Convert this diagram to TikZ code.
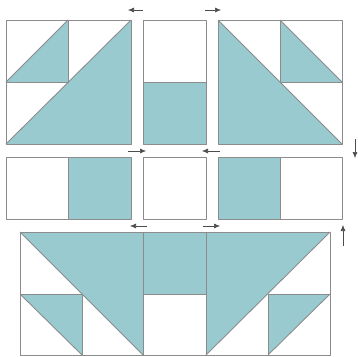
\documentclass[tikz,border=0pt]{standalone}
\usetikzlibrary{arrows.meta}
\definecolor{patch}{RGB}{152,202,207}
\definecolor{seam}{RGB}{140,140,140}
\tikzset{
  fab/.style={fill=patch, draw=seam, line width=0.9pt, line join=round},
  box/.style={draw=seam, line width=0.9pt, line join=round},
  press/.style={-{Latex[length=6pt,width=5pt]}, line width=0.6pt, draw=black!70}
}
\begin{document}
\begin{tikzpicture}[x=1pt,y=-1pt]
\useasboundingbox (0,0) rectangle (358,356);
% ---------- top row ----------
% left block
\fill[patch] (6,144) -- (131,20) -- (131,144) -- cycle;
\fill[patch] (6,82) -- (68,20) -- (68,82) -- cycle;
\draw[box] (6,144) -- (131,20);
\draw[box] (6,82) -- (68,20);
\draw[box] (6,82) -- (68,82) -- (68,20);
\draw[box] (6,20) rectangle (131,144);
% middle block
\fill[patch] (143,82) rectangle (206,144);
\draw[box] (143,82) -- (206,82);
\draw[box] (143,20) rectangle (206,144);
% right block
\fill[patch] (218,20) -- (342,144) -- (218,144) -- cycle;
\fill[patch] (280,20) -- (342,82) -- (280,82) -- cycle;
\draw[box] (218,20) -- (342,144);
\draw[box] (280,20) -- (342,82);
\draw[box] (280,20) -- (280,82) -- (342,82);
\draw[box] (218,20) rectangle (342,144);
% ---------- middle row ----------
\fill[patch] (68,157) rectangle (131,219);
\draw[box] (68,157) -- (68,219);
\draw[box] (6,157) rectangle (131,219);
\draw[box] (143,157) rectangle (206,219);
\fill[patch] (218,157) rectangle (280,219);
\draw[box] (280,157) -- (280,219);
\draw[box] (218,157) rectangle (342,219);
% ---------- bottom row ----------
% left block
\fill[patch] (20,232) -- (143,232) -- (143,355) -- cycle;
\fill[patch] (20,294) -- (82,294) -- (82,355) -- cycle;
\draw[box] (20,232) -- (143,355);
\draw[box] (20,294) -- (82,355);
\draw[box] (20,294) -- (82,294) -- (82,355);
\draw[box] (20,232) rectangle (143,355);
% middle block
\fill[patch] (143,232) rectangle (206,294);
\draw[box] (143,294) -- (206,294);
\draw[box] (143,232) rectangle (206,355);
% right block
\fill[patch] (206,232) -- (330,232) -- (206,355) -- cycle;
\fill[patch] (268,294) -- (330,294) -- (268,355) -- cycle;
\draw[box] (330,232) -- (206,355);
\draw[box] (330,294) -- (268,355);
\draw[box] (268,355) -- (268,294) -- (330,294);
\draw[box] (206,232) rectangle (330,355);
% ---------- pressing arrows ----------
\coordinate (a1s) at (143,10); \coordinate (a1e) at (128,10);
\coordinate (a2s) at (205,10); \coordinate (a2e) at (221,10);
\coordinate (a3s) at (128,151); \coordinate (a3e) at (146,151);
\coordinate (a4s) at (220,151); \coordinate (a4e) at (202,151);
\coordinate (a5s) at (147,226); \coordinate (a5e) at (130,226);
\coordinate (a6s) at (203,226); \coordinate (a6e) at (220,226);
\coordinate (a7s) at (355,139); \coordinate (a7e) at (355,158);
\coordinate (a8s) at (343,246); \coordinate (a8e) at (343,225);
\foreach \i in {1,...,8} { \draw[press] (a\i s) -- (a\i e); }
\end{tikzpicture}
\end{document}
